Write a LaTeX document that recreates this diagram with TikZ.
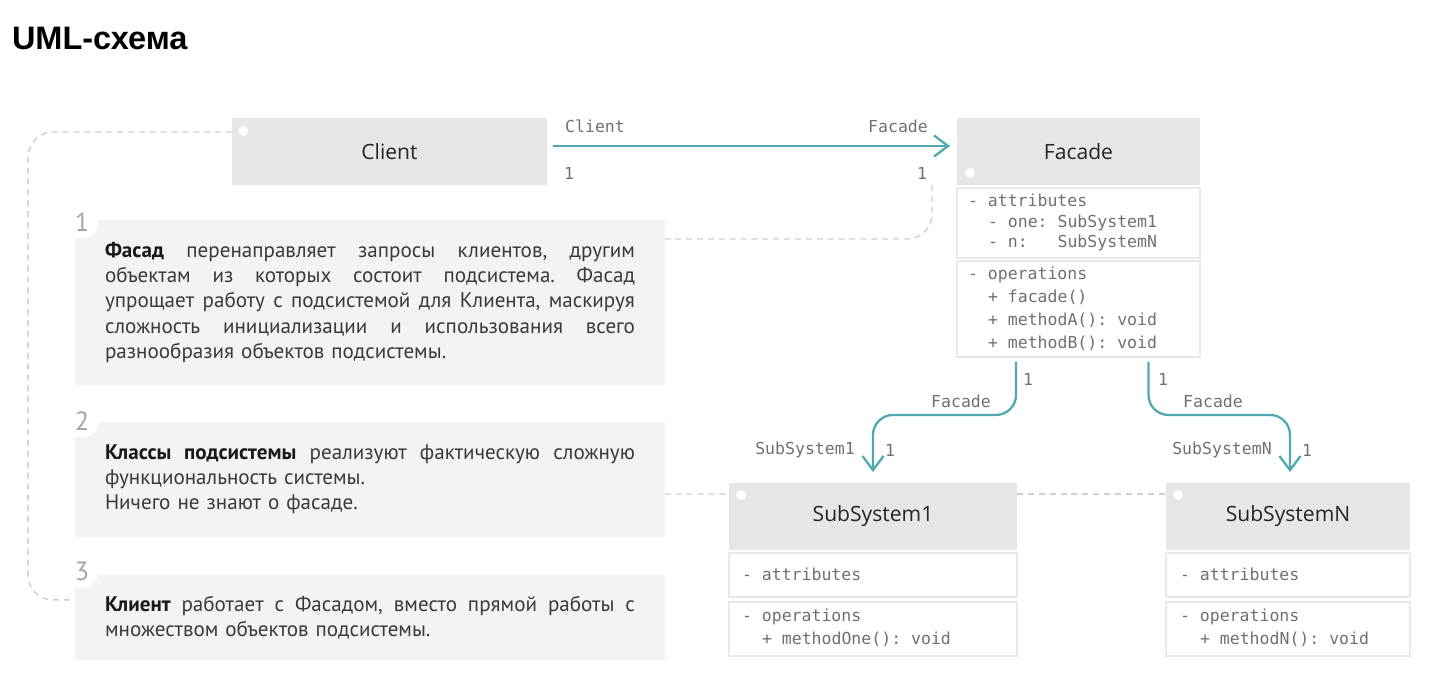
\documentclass[tikz,border=0pt]{standalone}
\usepackage{fontspec}
\usepackage{xcolor}
\usepackage{tikz}
\setmonofont{DejaVu Sans Mono}
\newfontfamily\umlhead{Open Sans}
\newfontfamily\umlnote{PT Sans}
\newfontfamily\umltitle{Liberation Sans}
\definecolor{umlTeal}{HTML}{52A8B1}
\definecolor{umlHead}{HTML}{E6E6E6}
\definecolor{umlFrame}{HTML}{E9E9E9}
\definecolor{umlNote}{HTML}{F3F3F3}
\definecolor{umlDash}{HTML}{CFCFCF}
\definecolor{umlMono}{HTML}{707070}
\definecolor{umlText}{HTML}{3A3A3A}
\definecolor{umlNum}{HTML}{A5A5A5}
\usetikzlibrary{arrows.meta,positioning}
\newlength\notew
\setlength\notew{10.6cm}
\newcommand\jline[1]{\makebox[\notew][s]{\frenchspacing\spaceskip=0pt\xspaceskip=0pt #1}\\}
\newcommand\notekey[1]{\textcolor{black!90}{\bfseries #1}}

\begin{document}
\begin{tikzpicture}[x=0.02cm,y=-0.02cm,
  every node/.style={inner sep=0pt, outer sep=0pt},
  classhead/.style={fill=umlHead, minimum height=1.34cm, font=\umlhead\fontsize{12}{14}\selectfont, text=black!85},
  compart/.style={fill=white, draw=umlFrame, line width=1.2pt},
  member/.style={anchor=base west, font=\ttfamily\fontsize{9.4}{11}\selectfont, text=umlMono},
  role/.style={font=\ttfamily\fontsize{9.4}{11}\selectfont, text=umlMono},
  note/.style={fill=umlNote, text width=10.6cm, inner xsep=0.6cm, align=left, font=\umlnote\fontsize{12}{14.3}\selectfont, text=umlText},
  num/.style={circle, fill=white, inner sep=2pt, font=\umlnote\fontsize{15}{17}\selectfont, text=umlNum},
  assoc/.style={draw=umlTeal, line width=1.3pt, -{Straight Barb[length=8pt,width=12pt]}, rounded corners=0.4cm},
  dashline/.style={draw=umlDash, line width=0.8pt, dash pattern=on 3.4pt off 2.8pt, rounded corners=0.5cm}]
  \fill[white] (0,0) rectangle (1435,692);
  \useasboundingbox (0,0) rectangle (1435,692);

  \node[anchor=west, font=\umltitle\bfseries\fontsize{18.5}{21}\selectfont] (title) at (12,38) {UML-схема};

  % classes
  \node[classhead, minimum width=6.3cm] (client) at (389.5,151.5) {Client};
  \node[classhead, minimum width=4.86cm] (facade) at (1078.5,151.5) {Facade};
  \node[compart, minimum width=4.86cm, minimum height=1.4cm, below=0.06cm of facade] (facattr) {};
  \node[compart, minimum width=4.86cm, minimum height=1.92cm, below=0.06cm of facattr] (facops) {};
  \node[classhead, minimum width=5.76cm] (sub1) at (873,516.5) {SubSystem1};
  \node[compart, minimum width=5.76cm, minimum height=0.88cm, below=0.06cm of sub1] (subattr1) {};
  \node[compart, minimum width=5.76cm, minimum height=1.08cm, below=0.1cm of subattr1] (subops1) {};
  \node[classhead, minimum width=4.88cm] (subN) at (1288,516.5) {SubSystemN};
  \node[compart, minimum width=4.88cm, minimum height=0.88cm, below=0.06cm of subN] (subattrN) {};
  \node[compart, minimum width=4.88cm, minimum height=1.08cm, below=0.1cm of subattrN] (subopsN) {};
  \foreach \cls/\corner/\dx/\dy in {client/north west/0.22/-0.26, facade/south west/0.26/0.24, sub1/north west/0.24/-0.24, subN/north west/0.24/-0.24}
    \fill[white] ([xshift=\dx cm,yshift=\dy cm]\cls.\corner) circle (0.1cm);

  % members
  \foreach \i/\xx/\txt in {0/968/{- attributes}, 1/988/{- one: SubSystem1}, 2/988/{- n:\ \ \ SubSystemN}}
    \node[member] (fa\i) at (\xx,{207+20.5*\i}) {\txt};
  \foreach \i/\xx/\txt in {0/968/{- operations}, 1/988/{+ facade()}, 2/988/{+ methodA(): void}, 3/988/{+ methodB(): void}}
    \node[member] (fo\i) at (\xx,{279+23*\i}) {\txt};
  \node[member] (sa1) at (742,580) {- attributes};
  \node[member] (so1) at (742,621) {- operations};
  \node[member] (sm1) at (762,644) {+ methodOne(): void};
  \node[member] (saN) at (1180,580) {- attributes};
  \node[member] (soN) at (1180,621) {- operations};
  \node[member] (smN) at (1200,644) {+ methodN(): void};

  % notes
  \node[note, minimum height=3.3cm] (note1) at (370,302.5) {%
    \jline{\notekey{Фасад} перенаправляет запросы клиентов, другим}
    \jline{объектам из которых состоит подсистема. Фасад}
    \jline{упрощает работу с подсистемой для Клиента, маскируя}
    \jline{сложность инициализации и использования всего}
    разнообразия объектов подсистемы.};
  \node[note, minimum height=2.3cm, below=0.74cm of note1] (note2) {%
    \jline{\notekey{Классы подсистемы} реализуют фактическую сложную}
    функциональность системы.\\
    Ничего не знают о фасаде.};
  \node[note, minimum height=1.7cm, below=0.76cm of note2] (note3) {%
    \jline{\notekey{Клиент} работает с Фасадом, вместо прямой работы с}
    множеством объектов подсистемы.};
  \foreach \n/\yy in {1/222, 2/421, 3/571}
    \node[num] (num\n) at (82,\yy) {\n};

  % dashed links
  \draw[dashline] ([yshift=0.39cm]client.west) -| ([xshift=-0.94cm,yshift=0.35cm]note3.west) -- ([yshift=0.35cm]note3.west);
  \draw[dashline] ([xshift=-0.5cm]facade.south west) |- ([yshift=1.27cm]note1.east);
  \draw[dashline] ([yshift=-0.29cm]note2.east) -- ([yshift=0.45cm]sub1.west);
  \draw[dashline] ([yshift=0.45cm]sub1.east) -- ([yshift=0.45cm]subN.west);

  % associations
  \draw[assoc, shorten <=0.12cm, shorten >=0.14cm] ([yshift=0.11cm]client.east) -- ([yshift=0.11cm]facade.west);
  \draw[assoc, shorten <=0.1cm, shorten >=0.22cm] ([xshift=-1.25cm]facops.south) -- ++(0,58) -| (sub1.north);
  \draw[assoc, shorten <=0.1cm, shorten >=0.22cm] ([xshift=1.4cm]facops.south) -- ++(0,58) -| ([xshift=0.04cm]subN.north);
  \node[role] (r1) at (595,126) {Client};
  \node[role] (r2) at (898,126) {Facade};
  \node[role] (m1) at (569,173) {1};
  \node[role] (m2) at (922,173) {1};
  \node[role] (m3) at (1028,379) {1};
  \node[role] (r3) at (961,401) {Facade};
  \node[role] (r4) at (805,450) {SubSystem1};
  \node[role] (m4) at (890,450) {1};
  \node[role] (m5) at (1163,379) {1};
  \node[role] (r5) at (1213,401) {Facade};
  \node[role] (r6) at (1222,450) {SubSystemN};
  \node[role] (m6) at (1307,450) {1};
\end{tikzpicture}
\end{document}
